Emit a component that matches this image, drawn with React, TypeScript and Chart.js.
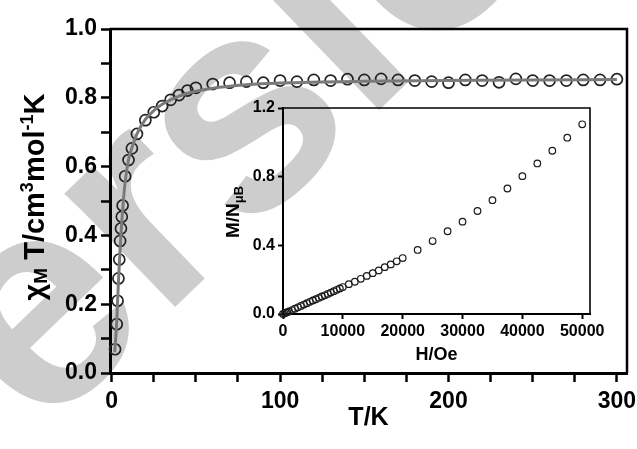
import React, { useEffect, useRef } from 'react';
import { Chart, registerables } from 'chart.js';

Chart.register(...registerables);

const FONT = "'Liberation Sans', Arial, Helvetica, sans-serif";

// Main plot: chi_M T vs T
const tempK = [2, 3, 3.5, 4, 4.5, 5, 5.5, 6, 6.5, 8, 10, 12, 15, 20, 25, 30, 35, 40, 45, 50, 60, 70, 80, 90, 100,
  110, 120, 130, 140, 150, 160, 170, 180, 190, 200, 210, 220, 230, 240, 250, 260, 270, 280, 290, 300];
const chiT = [0.069, 0.142, 0.21, 0.275, 0.33, 0.384, 0.42, 0.454, 0.487, 0.572, 0.619, 0.653, 0.695, 0.735, 0.758, 0.776, 0.794, 0.808, 0.821, 0.829, 0.840, 0.844, 0.847, 0.844, 0.850,
  0.847, 0.852, 0.850, 0.854, 0.852, 0.855, 0.852, 0.850, 0.847, 0.844, 0.852, 0.850, 0.845, 0.855, 0.850, 0.850, 0.850, 0.852, 0.852, 0.854];

// Fit curve
const fitT = [1.8, 2.5, 3, 4, 5, 6, 7, 8, 10, 12, 15, 20, 25, 30, 40, 50, 60, 80, 100, 150, 200, 250, 300];
const fitChiT = [0.06, 0.11, 0.15, 0.265, 0.36, 0.44, 0.505, 0.555, 0.62, 0.655, 0.695, 0.737, 0.763, 0.781, 0.805, 0.819, 0.828, 0.838, 0.843, 0.848, 0.850, 0.852, 0.853];

// Inset: M vs H
const fieldOe = [0, 250, 500, 750, 1000, 1500, 2000, 2500, 3000, 3500, 4000, 4500, 5000, 5500, 6000, 6500, 7000, 7500, 8000, 8500, 9000, 9500, 10000,
  11000, 12000, 13000, 14000, 15000, 16000, 17000, 18000, 19000, 20000,
  22500, 25000, 27500, 30000, 32500, 35000, 37500, 40000, 42500, 45000, 47500, 50000];
const magnet = [0, 0.004, 0.008, 0.011, 0.015, 0.023, 0.031, 0.039, 0.047, 0.055, 0.063, 0.071, 0.079, 0.086, 0.094, 0.102, 0.109, 0.117, 0.125, 0.133, 0.141, 0.149, 0.157,
  0.174, 0.188, 0.205, 0.222, 0.238, 0.254, 0.273, 0.289, 0.307, 0.326,
  0.373, 0.425, 0.482, 0.538, 0.600, 0.663, 0.731, 0.803, 0.877, 0.951, 1.027, 1.105];

// Tick positions and labels
const mainXTicks = [0, 25, 50, 75, 100, 125, 150, 175, 200, 225, 250, 275, 300];
const mainXTickLabels = ['0', '', '', '', '100', '', '', '', '200', '', '', '', '300'];
const mainYTicks = [0, 0.1, 0.2, 0.3, 0.4, 0.5, 0.6, 0.7, 0.8, 0.9, 1.0];
const mainYTickLabels = ['0.0', '', '0.2', '', '0.4', '', '0.6', '', '0.8', '', '1.0'];
const insetXTicks = [0, 10000, 20000, 30000, 40000, 50000];
const insetXTickLabels = ['0', '10000', '20000', '30000', '40000', '50000'];
const insetYTicks = [0, 0.4, 0.8, 1.2];
const insetYTickLabels = ['0.0', '0.4', '0.8', '1.2'];

type Run = { text: string; size: number; dy: number };

const mainYTitle: Run[] = [
  { text: 'χ', size: 29, dy: 0 },
  { text: 'M', size: 19, dy: 3 },
  { text: ' T/cm', size: 29, dy: 0 },
  { text: '3', size: 18, dy: -11 },
  { text: 'mol', size: 29, dy: 0 },
  { text: '-1', size: 18, dy: -11 },
  { text: 'K', size: 29, dy: 0 },
];
const insetYTitle: Run[] = [
  { text: 'M/N', size: 19, dy: 0 },
  { text: 'μB', size: 13, dy: 4 },
];

function drawRotatedRich(ctx: CanvasRenderingContext2D, runs: Run[], baselineX: number, centerY: number) {
  ctx.save();
  ctx.translate(baselineX, centerY);
  ctx.rotate(-Math.PI / 2);
  ctx.fillStyle = '#000';
  ctx.textBaseline = 'alphabetic';
  ctx.textAlign = 'left';
  const widths = runs.map((r) => {
    ctx.font = `bold ${r.size}px ${FONT}`;
    return ctx.measureText(r.text).width;
  });
  const total = widths.reduce((a, b) => a + b, 0);
  let x = -total / 2;
  runs.forEach((r, i) => {
    ctx.font = `bold ${r.size}px ${FONT}`;
    ctx.fillText(r.text, x, r.dy);
    x += widths[i];
  });
  ctx.restore();
}

function framePlugin(id: string, width: number) {
  return {
    id,
    afterDraw(chart: any) {
      const { ctx, chartArea } = chart;
      ctx.save();
      ctx.strokeStyle = '#000';
      ctx.lineWidth = width;
      ctx.beginPath();
      ctx.moveTo(chartArea.left, chartArea.top);
      ctx.lineTo(chartArea.right, chartArea.top);
      ctx.lineTo(chartArea.right, chartArea.bottom);
      ctx.stroke();
      ctx.restore();
    },
  };
}

const watermarkPlugin = {
  id: 'watermark',
  beforeDraw(chart: any) {
    const ctx = chart.ctx as CanvasRenderingContext2D;
    ctx.save();
    ctx.fillStyle = '#cdcdcd';
    ctx.font = `bold 300px ${FONT}`;
    ctx.textAlign = 'left';
    ctx.textBaseline = 'alphabetic';
    ctx.translate(-92, 565);
    ctx.rotate((-44 * Math.PI) / 180);
    ctx.fillText('Version', 0, 0);
    ctx.restore();
  },
};

const mainTitlePlugin = {
  id: 'mainYTitle',
  afterDraw(chart: any) {
    drawRotatedRich(chart.ctx, mainYTitle, 44, 197);
  },
};

const insetTitlePlugin = {
  id: 'insetYTitle',
  afterDraw(chart: any) {
    // inset canvas origin is (220, 90)
    drawRotatedRich(chart.ctx, insetYTitle, 239 - 220, 212 - 90);
  },
};

function MainChart() {
  const ref = useRef<HTMLCanvasElement>(null);
  useEffect(() => {
    if (!ref.current) return;
    const chart = new Chart(ref.current, {
      type: 'scatter',
      data: {
        datasets: [
          {
            label: 'fit',
            data: fitT.map((t, i) => ({ x: t, y: fitChiT[i] })),
            showLine: true,
            borderColor: '#7a7a7a',
            borderWidth: 3,
            pointRadius: 0,
            cubicInterpolationMode: 'monotone',
            clip: false,
          } as any,
          {
            label: 'data',
            data: tempK.map((t, i) => ({ x: t, y: chiT[i] })),
            showLine: false,
            pointRadius: 5.5,
            pointBorderWidth: 1.7,
            pointBorderColor: '#222',
            pointBackgroundColor: 'rgba(0,0,0,0)',
            clip: false,
          } as any,
        ],
      },
      options: {
        animation: false,
        responsive: false,
        devicePixelRatio: 1,
        layout: { padding: { left: 0, right: 10, top: 29, bottom: 0 } },
        plugins: { legend: { display: false }, tooltip: { enabled: false } },
        scales: {
          x: {
            type: 'linear',
            min: -1,
            max: 306,
            afterBuildTicks: (s: any) => {
              s.ticks = mainXTicks.map((v) => ({ value: v }));
            },
            afterFit: (s: any) => {
              s.height = 76;
              s.paddingLeft = 0;
              s.paddingRight = 0;
            },
            ticks: {
              autoSkip: false,
              maxRotation: 0,
              padding: 6,
              color: '#000',
              font: { family: FONT, size: 23, weight: 'bold' },
              callback: (_v: any, i: number) => mainXTickLabels[i],
            },
            grid: { display: true, drawOnChartArea: false, drawTicks: true, tickLength: 9, tickWidth: 2.5, tickColor: '#000', color: '#000' },
            border: { display: true, width: 3, color: '#000' },
            title: {
              display: true,
              text: 'T/K',
              color: '#000',
              font: { family: FONT, size: 25, weight: 'bold' },
              padding: { top: 0, bottom: 16 },
            },
          },
          y: {
            type: 'linear',
            min: 0,
            max: 1.0,
            afterBuildTicks: (s: any) => {
              s.ticks = mainYTicks.map((v) => ({ value: v }));
            },
            afterFit: (s: any) => {
              s.width = 110;
              s.paddingTop = 0;
              s.paddingBottom = 0;
            },
            ticks: {
              autoSkip: false,
              padding: 4,
              color: '#000',
              font: { family: FONT, size: 23, weight: 'bold' },
              callback: (_v: any, i: number) => mainYTickLabels[i],
            },
            grid: { display: true, drawOnChartArea: false, drawTicks: true, tickLength: 9, tickWidth: 2.5, tickColor: '#000', color: '#000' },
            border: { display: true, width: 3, color: '#000' },
          },
        },
      } as any,
      plugins: [watermarkPlugin, framePlugin('mainFrame', 2.5), mainTitlePlugin],
    });
    return () => chart.destroy();
  }, []);
  return (
    <canvas
      ref={ref}
      width={637}
      height={449}
      style={{ position: 'absolute', left: 0, top: 0, width: 637, height: 449 }}
    />
  );
}

function InsetChart() {
  const ref = useRef<HTMLCanvasElement>(null);
  useEffect(() => {
    if (!ref.current) return;
    const chart = new Chart(ref.current, {
      type: 'scatter',
      data: {
        datasets: [
          {
            label: 'M',
            data: fieldOe.map((h, i) => ({ x: h, y: magnet[i] })),
            showLine: false,
            pointRadius: 3.3,
            pointBorderWidth: 1.2,
            pointBorderColor: '#1a1a1a',
            pointBackgroundColor: 'rgba(0,0,0,0)',
            clip: false,
          } as any,
        ],
      },
      options: {
        animation: false,
        responsive: false,
        devicePixelRatio: 1,
        layout: { padding: { left: 0, right: 30, top: 18, bottom: 0 } },
        plugins: { legend: { display: false }, tooltip: { enabled: false } },
        scales: {
          x: {
            type: 'linear',
            min: 0,
            max: 51300,
            afterBuildTicks: (s: any) => {
              s.ticks = insetXTicks.map((v) => ({ value: v }));
            },
            afterFit: (s: any) => {
              s.height = 66;
              s.paddingLeft = 0;
              s.paddingRight = 0;
            },
            ticks: {
              autoSkip: false,
              maxRotation: 0,
              padding: 3,
              color: '#000',
              font: { family: FONT, size: 16, weight: 'bold' },
              callback: (_v: any, i: number) => insetXTickLabels[i],
            },
            grid: { display: true, drawOnChartArea: false, drawTicks: true, tickLength: 5, tickWidth: 2, tickColor: '#000', color: '#000' },
            border: { display: true, width: 2, color: '#000' },
            title: {
              display: true,
              text: 'H/Oe',
              color: '#000',
              font: { family: FONT, size: 18, weight: 'bold' },
              padding: { top: 0, bottom: 14 },
            },
          },
          y: {
            type: 'linear',
            min: 0,
            max: 1.2,
            afterBuildTicks: (s: any) => {
              s.ticks = insetYTicks.map((v) => ({ value: v }));
            },
            afterFit: (s: any) => {
              s.width = 63;
              s.paddingTop = 0;
              s.paddingBottom = 0;
            },
            ticks: {
              autoSkip: false,
              padding: 3,
              color: '#000',
              font: { family: FONT, size: 16, weight: 'bold' },
              callback: (_v: any, i: number) => insetYTickLabels[i],
            },
            grid: { display: true, drawOnChartArea: false, drawTicks: true, tickLength: 5, tickWidth: 2, tickColor: '#000', color: '#000' },
            border: { display: true, width: 2, color: '#000' },
          },
        },
      } as any,
      plugins: [framePlugin('insetFrame', 1.6), insetTitlePlugin],
    });
    return () => chart.destroy();
  }, []);
  return (
    <canvas
      ref={ref}
      width={400}
      height={290}
      style={{ position: 'absolute', left: 220, top: 90, width: 400, height: 290 }}
    />
  );
}

export default function App() {
  return (
    <div
      style={{
        position: 'fixed',
        left: 0,
        top: 0,
        width: 637,
        height: 449,
        background: '#fff',
        overflow: 'hidden',
      }}
    >
      <MainChart />
      <InsetChart />
    </div>
  );
}
